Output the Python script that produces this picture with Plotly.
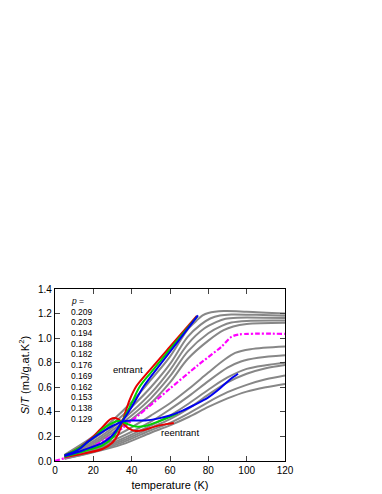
import plotly.graph_objects as go

# doping levels (legend list, top to bottom)
p_labels = ["0.209", "0.203", "0.194", "0.188", "0.182", "0.176",
            "0.169", "0.162", "0.153", "0.138", "0.129"]

# gray curves: temperature (K) and S/T values, one list per doping
g1_T = [5, 20, 30, 40, 50, 60, 69.2, 74, 77, 80, 88, 100, 120]
g1_V = [0.05, 0.20, 0.33, 0.48, 0.66, 0.85, 1.07, 1.145, 1.185, 1.205, 1.22, 1.215, 1.20]
g2_T = [5, 20, 30, 40, 50, 60, 69.2, 76, 81, 86, 92, 105, 120]
g2_V = [0.045, 0.18, 0.30, 0.44, 0.60, 0.79, 1.01, 1.11, 1.16, 1.185, 1.193, 1.19, 1.183]
g3_T = [5, 20, 30, 40, 50, 60, 69.2, 78, 84, 89, 95, 120]
g3_V = [0.04, 0.16, 0.27, 0.40, 0.55, 0.74, 0.95, 1.08, 1.13, 1.158, 1.167, 1.164]
g4_T = [5, 20, 30, 40, 50, 60, 69.2, 80, 87, 92, 100, 120]
g4_V = [0.035, 0.145, 0.25, 0.37, 0.51, 0.69, 0.89, 1.04, 1.10, 1.127, 1.14, 1.143]
g5_T = [5, 20, 30, 40, 50, 60, 69.2, 80, 88, 93, 100, 120]
g5_V = [0.03, 0.13, 0.23, 0.34, 0.47, 0.64, 0.83, 0.98, 1.065, 1.095, 1.115, 1.125]
g6_T = [5, 20, 35, 50, 60, 70, 80, 88, 94, 102, 120]
g6_V = [0.03, 0.11, 0.23, 0.37, 0.47, 0.59, 0.72, 0.82, 0.88, 0.91, 0.932]
g7_T = [5, 20, 35, 50, 60, 70, 80, 90, 97, 106, 120]
g7_V = [0.028, 0.10, 0.20, 0.32, 0.42, 0.53, 0.65, 0.76, 0.81, 0.84, 0.86]
g8_T = [5, 20, 35, 50, 60, 70, 80, 90, 100, 110, 120]
g8_V = [0.025, 0.09, 0.18, 0.29, 0.37, 0.47, 0.58, 0.68, 0.75, 0.78, 0.80]
g9_T = [5, 20, 35, 50, 60, 70, 80, 90, 100, 110, 120]
g9_V = [0.022, 0.085, 0.165, 0.27, 0.34, 0.43, 0.54, 0.64, 0.71, 0.755, 0.781]
g10_T = [5, 20, 35, 50, 60, 70, 80, 90, 100, 110, 120]
g10_V = [0.02, 0.075, 0.15, 0.25, 0.31, 0.39, 0.48, 0.56, 0.62, 0.665, 0.696]
g11_T = [5, 20, 35, 50, 60, 70, 80, 90, 100, 110, 120]
g11_V = [0.018, 0.07, 0.135, 0.23, 0.29, 0.36, 0.44, 0.51, 0.565, 0.60, 0.627]

# magenta dash-dot curve
mag_T = [0, 10, 20, 30, 35, 48.5, 60, 74.6, 86.8, 92, 96, 120]
mag_V = [0, 0.05, 0.12, 0.21, 0.265, 0.437, 0.59, 0.78, 0.93, 1.01, 1.03, 1.035]

# entrant curves
red_ent_T = [5, 15, 25, 30, 33, 35, 37, 39, 42.5, 50, 60, 74]
red_ent_V = [0.03, 0.06, 0.10, 0.15, 0.22, 0.31, 0.41, 0.50, 0.61, 0.75, 0.93, 1.18]
green_ent_T = [5, 15, 25, 30, 35, 40, 44, 50, 60, 74.3]
green_ent_V = [0.035, 0.08, 0.13, 0.19, 0.32, 0.47, 0.60, 0.72, 0.91, 1.18]
blue_ent_T = [5, 15, 25, 30, 35, 40, 46.4, 53.6, 64, 74.6]
blue_ent_V = [0.04, 0.09, 0.15, 0.21, 0.32, 0.44, 0.61, 0.76, 0.97, 1.186]

# reentrant curves
red_re_T = [5, 12, 20, 25, 29, 31, 33, 35, 38, 42, 46, 52, 58, 62]
red_re_V = [0.045, 0.10, 0.20, 0.28, 0.34, 0.35, 0.34, 0.315, 0.27, 0.245, 0.25, 0.28, 0.30, 0.31]
green_re_T = [5, 12, 20, 25, 30, 33, 35, 38, 42, 47, 53.6, 60, 64]
green_re_V = [0.045, 0.10, 0.19, 0.26, 0.31, 0.325, 0.32, 0.30, 0.28, 0.285, 0.32, 0.36, 0.39]
blue_re_T = [5, 12, 17.4, 26, 30, 35, 40, 47, 53.6, 60, 66.6, 72.5, 79.8, 86, 91, 95.5]
blue_re_V = [0.045, 0.09, 0.16, 0.25, 0.285, 0.32, 0.33, 0.33, 0.345, 0.37, 0.41, 0.455, 0.516, 0.59, 0.66, 0.71]

x_ticks = [0, 20, 40, 60, 80, 100, 120]
y_ticks = [0.0, 0.2, 0.4, 0.6, 0.8, 1.0, 1.2, 1.4]

FONT = "Arial, Liberation Sans, sans-serif"
GRAY = "rgb(135,135,135)"

fig = go.Figure()

grays = [(g1_T, g1_V), (g2_T, g2_V), (g3_T, g3_V), (g4_T, g4_V), (g5_T, g5_V),
         (g6_T, g6_V), (g7_T, g7_V), (g8_T, g8_V), (g9_T, g9_V), (g10_T, g10_V),
         (g11_T, g11_V)]
for (T, V), lab in zip(grays, p_labels):
    fig.add_trace(go.Scatter(x=T, y=V, mode="lines", name=lab,
                             line=dict(color=GRAY, width=2, shape="spline", smoothing=0.9),
                             showlegend=False))

fig.add_trace(go.Scatter(x=mag_T, y=mag_V, mode="lines",
                         line=dict(color="rgb(255,0,255)", width=2.2,
                                   dash="5px,2px,2px,2px",
                                   shape="spline", smoothing=0.8),
                         showlegend=False))

for T, V, c in [(red_ent_T, red_ent_V, "rgb(230,0,0)"),
                (red_re_T, red_re_V, "rgb(230,0,0)"),
                (green_ent_T, green_ent_V, "rgb(0,210,0)"),
                (green_re_T, green_re_V, "rgb(0,210,0)"),
                (blue_ent_T, blue_ent_V, "rgb(0,0,240)"),
                (blue_re_T, blue_re_V, "rgb(0,0,240)")]:
    fig.add_trace(go.Scatter(x=T, y=V, mode="lines",
                             line=dict(color=c, width=2, shape="spline", smoothing=0.9),
                             showlegend=False))

# doping list annotations
annos = [dict(x=7.4, y=(456.7 - 293.3) / 125.7, xref="x", yref="y",
              text="<i>p</i> =", showarrow=False, xanchor="left",
              font=dict(family=FONT, size=8.5, color="black"))]
for i, lab in enumerate(p_labels):
    py = 304 + i * 10.93
    annos.append(dict(x=7.4, y=(456.7 - py) / 125.7, xref="x", yref="y",
                      text=lab, showarrow=False, xanchor="left",
                      font=dict(family=FONT, size=8.5, color="black")))
annos.append(dict(x=38.1, y=0.743, xref="x", yref="y", text="entrant",
                  showarrow=False, font=dict(family=FONT, size=9.5, color="black")))
annos.append(dict(x=65.3, y=0.234, xref="x", yref="y", text="reentrant",
                  showarrow=False, font=dict(family=FONT, size=9.5, color="black")))

fig.update_layout(
    width=382, height=494,
    margin=dict(l=47, r=105, t=281, b=37),
    paper_bgcolor="white", plot_bgcolor="white",
    annotations=annos,
    font=dict(family=FONT, color="black"),
)
fig.update_xaxes(range=[0, 120], tickvals=x_ticks, ticks="inside", ticklen=5,
                 showline=True, linecolor="black", linewidth=1.3, mirror="ticks",
                 showgrid=False, zeroline=False,
                 tickfont=dict(family=FONT, size=10, color="black"),
                 title=dict(text="temperature (K)", standoff=6,
                            font=dict(family=FONT, size=11, color="black")))
fig.update_yaxes(range=[0, 1.4], tickvals=y_ticks, tickformat=".1f", ticks="inside",
                 ticklen=5, showline=True, linecolor="black", linewidth=1.3,
                 mirror="ticks", showgrid=False, zeroline=False,
                 tickfont=dict(family=FONT, size=10, color="black"),
                 title=dict(text="<i>S</i>/<i>T</i> (mJ/g.at.K<sup>2</sup>)", standoff=6,
                            font=dict(family=FONT, size=11, color="black")))

fig.write_html("out.html")
